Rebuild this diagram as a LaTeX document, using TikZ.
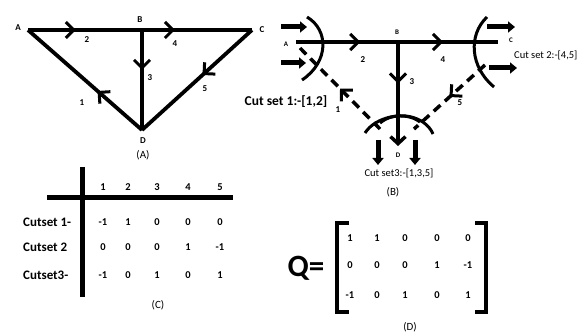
\documentclass[tikz,border=0pt]{standalone}
\usepackage{fontspec}
\setmainfont{Carlito}
\usetikzlibrary{arrows.meta,decorations.markings}
\tikzset{
  edge/.style={line width=3.8pt},
  midarrow/.style={postaction={decorate,solid},decoration={markings,mark=at position #1 with {\arrow[line width=3pt]{Straight Barb[length=8pt,width=16pt]}}}},
  dedge/.style={line width=3.5pt,dash pattern=on 9pt off 6pt},
  cutarc/.style={line width=3pt},
  fatarrow/.style={line width=5pt,-{Triangle[length=7pt,width=11pt]}},
  lbl/.style={font=\bfseries\fontsize{9}{10}\selectfont,inner sep=0pt},
  num/.style={font=\bfseries\fontsize{10.5}{12}\selectfont,inner sep=0pt},
  rowtext/.style={font=\bfseries\fontsize{13}{15}\selectfont,inner sep=0pt},
  captext/.style={font=\fontsize{11}{13}\selectfont,inner sep=0pt},
  bar/.style={line width=5pt},
  brk/.style={line width=4pt}
}
\begin{document}
\begin{tikzpicture}[x=1pt,y=-1pt]
\useasboundingbox (0,0) rectangle (579,334);
\fill[white] (0,0) rectangle (579,334);

% ---------- (A) ----------
\coordinate (aA) at (28,30);
\coordinate (aB) at (142,30);
\coordinate (aC) at (252,30);
\coordinate (aD) at (142,130);
\draw[edge,midarrow=0.42] (aA) -- (aB);
\draw[edge,midarrow=0.3] (aB) -- (aC);
\draw[edge,midarrow=0.4] (aB) -- (aD);
\draw[edge,midarrow=0.45] (aC) -- (aD);
\draw[edge,midarrow=0.39] (aD) -- (aA);
\node[lbl] (lAA) at (18,28) {A};
\node[lbl] (lAB) at (140,20) {B};
\node[lbl] (lAC) at (262,30) {C};
\node[lbl] (lAD) at (143,141) {D};
\node[lbl] (lA2) at (87,40) {2};
\node[lbl] (lA4) at (175,44) {4};
\node[lbl] (lA3) at (150,78) {3};
\node[lbl] (lA5) at (205,89) {5};
\node[lbl] (lA1) at (82,103) {1};
\node[captext] (capA) at (143,155) {(A)};

% ---------- (B) ----------
\coordinate (bA) at (296,42);
\coordinate (bB) at (398,42);
\coordinate (bC) at (498,42);
\coordinate (bD) at (398,146);
\coordinate (bD1) at (380,129);
\coordinate (bA1) at (300,48);
\coordinate (bC5) at (485,65);
\coordinate (bD5) at (414,129);
\draw[edge,line width=3.5pt,midarrow=0.63] (bA) -- (bB);
\draw[edge,line width=3.5pt,midarrow=0.45] (bB) -- (bC);
\draw[edge,line width=3.5pt,midarrow=0.4,-{Straight Barb[length=7pt,width=15pt]}] (bB) -- (bD);
\draw[dedge,midarrow=0.5] (bD1) -- (bA1);
\draw[dedge,midarrow=0.5] (bC5) -- (bD5);
% cut arcs
\draw[cutarc] (307,17) .. controls (329,30) and (329,62) .. (302,80);
\draw[cutarc] (487,17) .. controls (468,35) and (470,67) .. (494,87);
\draw[cutarc] (365,133) .. controls (375,117) and (405,110) .. (420,122);
\draw[cutarc] (380,123) .. controls (395,110) and (425,115) .. (433,134);
% fat arrows
\draw[fatarrow] (281,27) -- (307,27);
\draw[fatarrow] (281,63) -- (306,63);
\draw[fatarrow] (487,27) -- (515,27);
\draw[fatarrow] (489,68) -- (517,68);
\draw[fatarrow] (378,140) -- (378,165);
\draw[fatarrow] (415,140) -- (415,165);
\node[lbl,font=\bfseries\fontsize{7}{8}\selectfont] (lBA) at (286,44) {A};
\node[lbl,font=\bfseries\fontsize{7}{8}\selectfont] (lBB) at (397,32) {B};
\node[lbl,font=\bfseries\fontsize{7}{8}\selectfont] (lBC) at (511,40) {C};
\node[lbl,font=\bfseries\fontsize{7}{8}\selectfont] (lBD) at (398,155) {D};
\node[lbl] (lB2) at (363,60) {2};
\node[lbl] (lB4) at (443,60) {4};
\node[lbl] (lB3) at (412,82) {3};
\node[lbl] (lB1) at (338,110) {1};
\node[lbl] (lB5) at (460,103) {5};
\node[font=\bfseries\fontsize{13.5}{15}\selectfont,inner sep=0pt] (cs1) at (286,102) {Cut set 1:-[1,2]};
\node[font=\fontsize{10.5}{12}\selectfont,inner sep=0pt,anchor=west] (cs2) at (514,55) {Cut set 2:-[4,5]};
\node[font=\fontsize{10.5}{12}\selectfont,inner sep=0pt] (cs3) at (399,173) {Cut set3:-[1,3,5]};
\node[captext] (capB) at (393,192) {(B)};

% ---------- (C) ----------
\draw[bar] (82,167) -- (82,297);
\draw[bar] (47,198) -- (233,198);
\foreach \x/\v [count=\i] in {103/1,128/2,157/3,188/4,220/5}
  \node[num] (ch\i) at (\x,187) {\v};
\foreach \x/\v [count=\i] in {103/-1,128/1,157/0,188/0,220/0}
  \node[num] (ca\i) at (\x,222) {\v};
\foreach \x/\v [count=\i] in {103/0,128/0,157/0,188/1,220/-1}
  \node[num] (cb\i) at (\x,247) {\v};
\foreach \x/\v [count=\i] in {103/-1,128/0,157/1,188/0,220/1}
  \node[num] (cc\i) at (\x,275) {\v};
\node[rowtext,anchor=west] (r1) at (23,222) {Cutset 1-};
\node[rowtext,anchor=west] (r2) at (23,247) {Cutset 2};
\node[rowtext,anchor=west] (r3) at (23,275) {Cutset3-};
\node[captext] (capC) at (158,305) {(C)};

% ---------- (D) ----------
\node[font=\bfseries\fontsize{31}{33}\selectfont,inner sep=0pt] (Q) at (306,268) {Q=};
\draw[brk] (349,223) -- (337,223) -- (337,312) -- (349,312);
\draw[brk] (475,223) -- (486,223) -- (486,312) -- (475,312);
\foreach \x/\v [count=\i] in {350/1,377/1,405/0,437/0,468/0}
  \node[num] (da\i) at (\x,238) {\v};
\foreach \x/\v [count=\i] in {350/0,377/0,405/0,437/1,468/-1}
  \node[num] (db\i) at (\x,265) {\v};
\foreach \x/\v [count=\i] in {350/-1,377/0,405/1,437/0,468/1}
  \node[num] (dc\i) at (\x,295) {\v};
\node[captext] (capD) at (410,327) {(D)};
\end{tikzpicture}
\end{document}
